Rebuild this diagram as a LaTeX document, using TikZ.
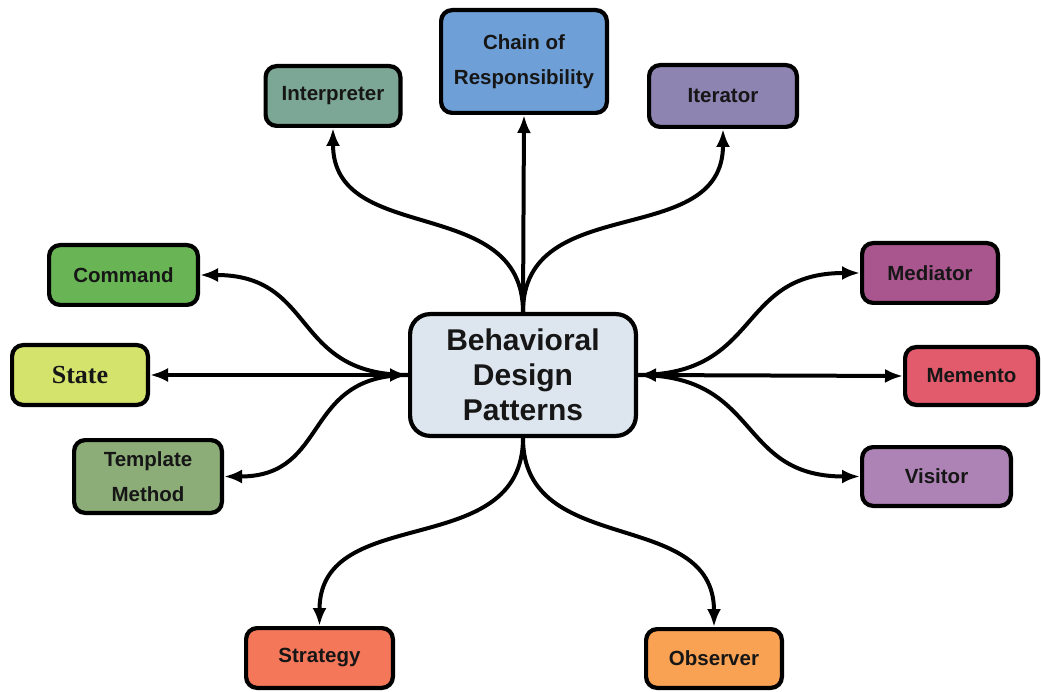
\documentclass[tikz,border=0pt]{standalone}
\usepackage{fontspec}
\setmainfont{Liberation Sans}
\newfontfamily\statefont{Liberation Serif}
\usetikzlibrary{arrows.meta}

% fills of the pattern boxes
\definecolor{labelink}{HTML}{161616}
\definecolor{corefill}{HTML}{DDE6EF}
\definecolor{interpfill}{HTML}{7CA696}
\definecolor{chainfill}{HTML}{6E9FD6}
\definecolor{iterfill}{HTML}{8D84B2}
\definecolor{commandfill}{HTML}{69B556}
\definecolor{statefill}{HTML}{D4E36B}
\definecolor{templatefill}{HTML}{8CAD78}
\definecolor{mediatorfill}{HTML}{A9568E}
\definecolor{mementofill}{HTML}{E15B6C}
\definecolor{visitorfill}{HTML}{AD82B4}
\definecolor{strategyfill}{HTML}{F4775A}
\definecolor{observerfill}{HTML}{F9A253}

\begin{document}
\begin{tikzpicture}[x=1pt,y=-1pt,
  patternbox/.style={draw=black, line width=4.2pt, rounded corners=11pt,
    align=center, text=labelink, inner sep=0pt,
    font=\fontsize{20.5}{35}\selectfont\bfseries},
  boxsize/.style 2 args={minimum width=#1pt-4.2pt, minimum height=#2pt-4.2pt},
  link/.style={draw=black, line width=4pt, -{Latex[length=18pt,width=14pt]}},
  bilink/.style={draw=black, line width=4pt,
    {Latex[length=18pt,width=14pt]}-{Latex[length=18pt,width=14pt]}},
]
\fill[white] (0,0) rectangle (1041,692);
\useasboundingbox (0,0) rectangle (1041,692);

% central topic
\node[patternbox, fill=corefill, boxsize={230}{126}, rounded corners=20pt,
      font=\fontsize{30}{35}\selectfont\bfseries] (core) at (523,375)
      {Behavioral\\Design\\Patterns};

% top row
\node[patternbox, fill=interpfill, boxsize={139}{64}] (interp) at (333,96) {Interpreter};
\node[patternbox, fill=chainfill, boxsize={170}{107}] (chain) at (524,61.5) {Chain of\\Responsibility};
\node[patternbox, fill=iterfill, boxsize={152}{66}] (iter) at (723,96) {Iterator};

% left column
\node[patternbox, fill=commandfill, boxsize={153}{64}] (command) at (123.5,275) {Command};
\node[patternbox, fill=statefill, boxsize={140}{64},
      font=\fontsize{26}{30}\statefont\bfseries] (state) at (80,375) {State};
\node[patternbox, fill=templatefill, boxsize={152}{77}] (template) at (148,476.5) {Template\\Method};

% right column
\node[patternbox, fill=mediatorfill, boxsize={140}{64}] (mediator) at (930,273) {Mediator};
\node[patternbox, fill=mementofill, boxsize={137}{62}] (memento) at (971.5,376) {Memento};
\node[patternbox, fill=visitorfill, boxsize={153}{63}] (visitor) at (936.5,476.5) {Visitor};

% bottom row
\node[patternbox, fill=strategyfill, boxsize={151}{64}] (strategy) at (319.5,658) {Strategy};
\node[patternbox, fill=observerfill, boxsize={140}{63}] (observer) at (714,658.5) {Observer};

% connectors from the central topic
\draw[link] (core.north) -- (chain.south);
\draw[link] (core.north) to[out=90,in=-90,looseness=1.15] (interp.south);
\draw[link] (core.north) to[out=90,in=-90,looseness=1.15] (iter.south);

\draw[link] (core.west) to[out=180,in=0,looseness=1.3] (command.east);
\draw[bilink] (core.west) -- (state.east);
\draw[link] (core.west) to[out=180,in=0,looseness=1.3] (template.east);

\draw[link] (core.east) to[out=0,in=180,looseness=1.3] (mediator.west);
\draw[bilink] (core.east) -- (memento.west);
\draw[link] (core.east) to[out=0,in=180,looseness=1.3] (visitor.west);

\draw[link] (core.south) to[out=-90,in=90,looseness=1.15] (strategy.north);
\draw[link] (core.south) to[out=-90,in=90,looseness=1.15] (observer.north);
\end{tikzpicture}
\end{document}
